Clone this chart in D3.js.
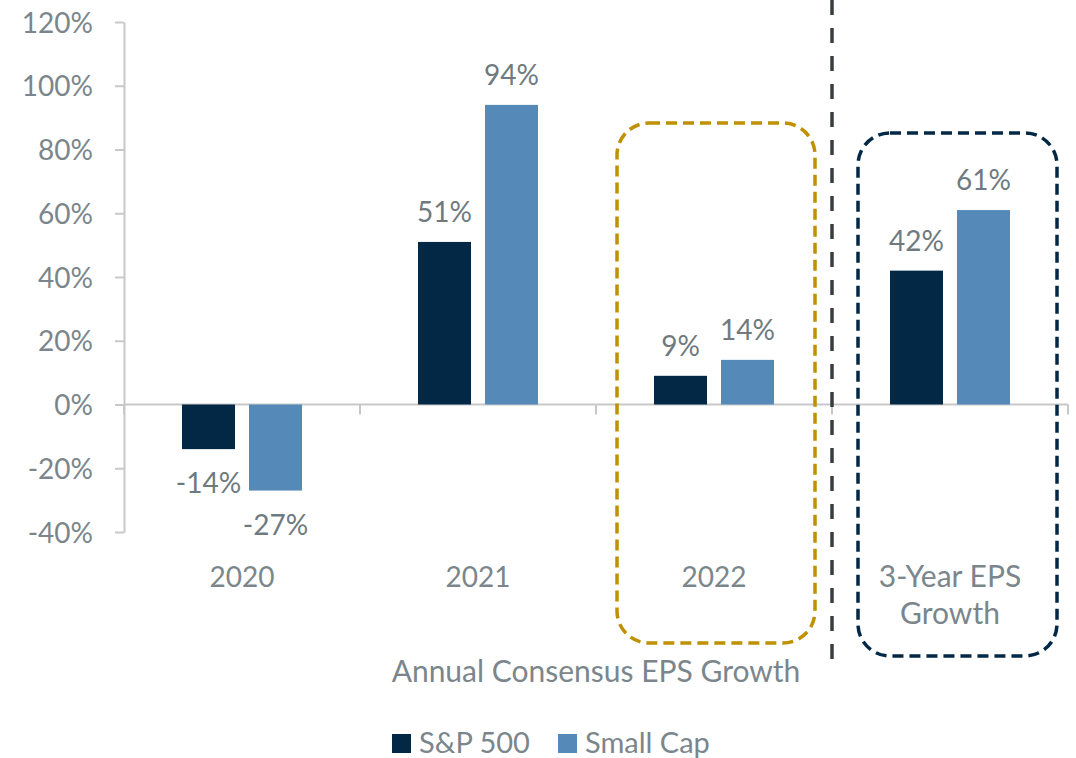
<!DOCTYPE html>
<html>
<head>
<meta charset="utf-8">
<script src="https://cdn.jsdelivr.net/npm/d3@7"></script>
<style>
  body { margin: 0; background: #fff; }
  svg { display: block; font-family: "Source Sans Pro", Lato, "Noto Sans", sans-serif; }
  .axis path, .axis line { stroke: #c8c8c8; stroke-width: 2; }
</style>
</head>
<body>
<div id="chart"></div>
<script>
const categories = ["2020", "2021", "2022", "3-Year EPS Growth"];
const series = ["S&P 500", "Small Cap"];
const sp500 = [-14, 51, 9, 42];
const smallCap = [-27, 94, 14, 61];
const yTicks = [-40, -20, 0, 20, 40, 60, 80, 100, 120];
const colors = ["#022846", "#5589b8"];

const width = 1076, height = 758;
const margin = {top: 22, right: 8, bottom: 226, left: 124};
const innerWidth = width - margin.left - margin.right,
  innerHeight = height - margin.top - margin.bottom;
const textColor = "#7b868c";
const fontFamily = "'Source Sans Pro', Lato, 'Noto Sans', sans-serif";

const data = categories.map((c, i) => ({cat: c, values: [sp500[i], smallCap[i]]}));

const svg = d3.select("#chart").append("svg")
    .attr("width", width)
    .attr("height", height);

const g = svg.append("g")
    .attr("transform", "translate(" + margin.left + "," + margin.top + ")");

const xScale = d3.scaleBand().domain(categories).range([0, innerWidth]).padding(0);
const xSub = d3.scaleBand().domain(series).range([0, xScale.bandwidth()])
    .paddingInner(0.209).paddingOuter(0.866);
const yScale = d3.scaleLinear().domain([-40, 120]).range([innerHeight, 0]);

// y axis
const yAxis = g.append("g")
    .attr("class", "y axis")
    .call(d3.axisLeft(yScale).tickValues(yTicks).tickSize(9).tickSizeOuter(0)
      .tickPadding(22).tickFormat(d => d + "%"));
yAxis.attr("font-size", 28).attr("font-family", fontFamily);
yAxis.selectAll("text")
    .attr("fill", textColor)
    .attr("dy", "0.36em");

// zero line with category ticks
const xAxis = g.append("g")
    .attr("class", "x axis")
    .attr("transform", "translate(0," + yScale(0) + ")");
xAxis.append("line")
    .attr("x1", 0).attr("x2", innerWidth);
xAxis.selectAll(".tick")
    .data(d3.range(categories.length + 1))
  .enter().append("line")
    .attr("x1", i => i * xScale.step())
    .attr("x2", i => i * xScale.step())
    .attr("y1", 0).attr("y2", 10);

// category labels
const catLabels = g.selectAll(".cat-label")
    .data(categories)
  .enter().append("text")
    .attr("class", "cat-label")
    .attr("x", d => xScale(d) + xScale.bandwidth() / 2)
    .attr("y", innerHeight + 55)
    .attr("text-anchor", "middle")
    .attr("fill", textColor)
    .attr("font-size", d => d.length > 4 ? 30 : 28);
catLabels.each(function (d) {
  const lines = d === "3-Year EPS Growth" ? ["3-Year EPS", "Growth"] : [d];
  d3.select(this).selectAll("tspan")
      .data(lines)
    .enter().append("tspan")
      .attr("x", xScale(d) + xScale.bandwidth() / 2)
      .attr("dy", (l, i) => i === 0 ? 0 : 37)
      .text(l => l);
});

// bars
const groups = g.selectAll(".group")
    .data(data)
  .enter().append("g")
    .attr("class", "group")
    .attr("transform", d => "translate(" + xScale(d.cat) + ",0)");

groups.selectAll("rect")
    .data(d => d.values.map((v, i) => ({series: series[i], value: v, i: i})))
  .enter().append("rect")
    .attr("x", d => xSub(d.series))
    .attr("y", d => yScale(Math.max(0, d.value)))
    .attr("width", xSub.bandwidth())
    .attr("height", d => Math.abs(yScale(d.value) - yScale(0)))
    .attr("fill", d => colors[d.i]);

groups.selectAll(".label")
    .data(d => d.values.map((v, i) => ({series: series[i], value: v})))
  .enter().append("text")
    .attr("class", "label")
    .attr("x", d => xSub(d.series) + xSub.bandwidth() / 2)
    .attr("y", d => d.value >= 0 ? yScale(d.value) - 20 : yScale(d.value) + 44)
    .attr("text-anchor", "middle")
    .attr("fill", "#6f7a80")
    .attr("font-size", 28)
    .text(d => d.value + "%");

// separator between annual and 3-year
g.append("line")
    .attr("x1", xScale("3-Year EPS Growth"))
    .attr("x2", xScale("3-Year EPS Growth"))
    .attr("y1", -margin.top)
    .attr("y2", innerHeight + 128)
    .attr("stroke", "#3a3d40")
    .attr("stroke-width", 3.5)
    .attr("stroke-dasharray", "15,13");

// highlight boxes
g.append("rect")
    .attr("x", xScale("2022") + 21)
    .attr("y", yScale(88.3))
    .attr("width", xScale.bandwidth() - 38)
    .attr("height", innerHeight + 111 - yScale(88.3))
    .attr("rx", 32)
    .attr("fill", "none")
    .attr("stroke", "#bf9000")
    .attr("stroke-width", 3.5)
    .attr("stroke-dasharray", "11,6");

g.append("rect")
    .attr("x", xScale("3-Year EPS Growth") + 26)
    .attr("y", yScale(85.2))
    .attr("width", xScale.bandwidth() - 37)
    .attr("height", innerHeight + 124 - yScale(85.2))
    .attr("rx", 32)
    .attr("fill", "none")
    .attr("stroke", "#022846")
    .attr("stroke-width", 3.5)
    .attr("stroke-dasharray", "11,6");

// axis title
g.append("text")
    .attr("x", innerWidth / 2)
    .attr("y", innerHeight + 150)
    .attr("text-anchor", "middle")
    .attr("fill", textColor)
    .attr("font-size", 30)
    .text("Annual Consensus EPS Growth");

// legend
const legend = svg.append("g")
    .attr("transform", "translate(392,734)");
const items = legend.selectAll(".item")
    .data(series)
  .enter().append("g")
    .attr("class", "item")
    .attr("transform", (d, i) => "translate(" + (i * 166) + ",0)");
items.append("rect")
    .attr("width", 19).attr("height", 19)
    .attr("fill", (d, i) => colors[i]);
items.append("text")
    .attr("x", 27)
    .attr("y", 19)
    .attr("fill", textColor)
    .attr("font-size", 29)
    .text(d => d);
</script>
</body>
</html>
